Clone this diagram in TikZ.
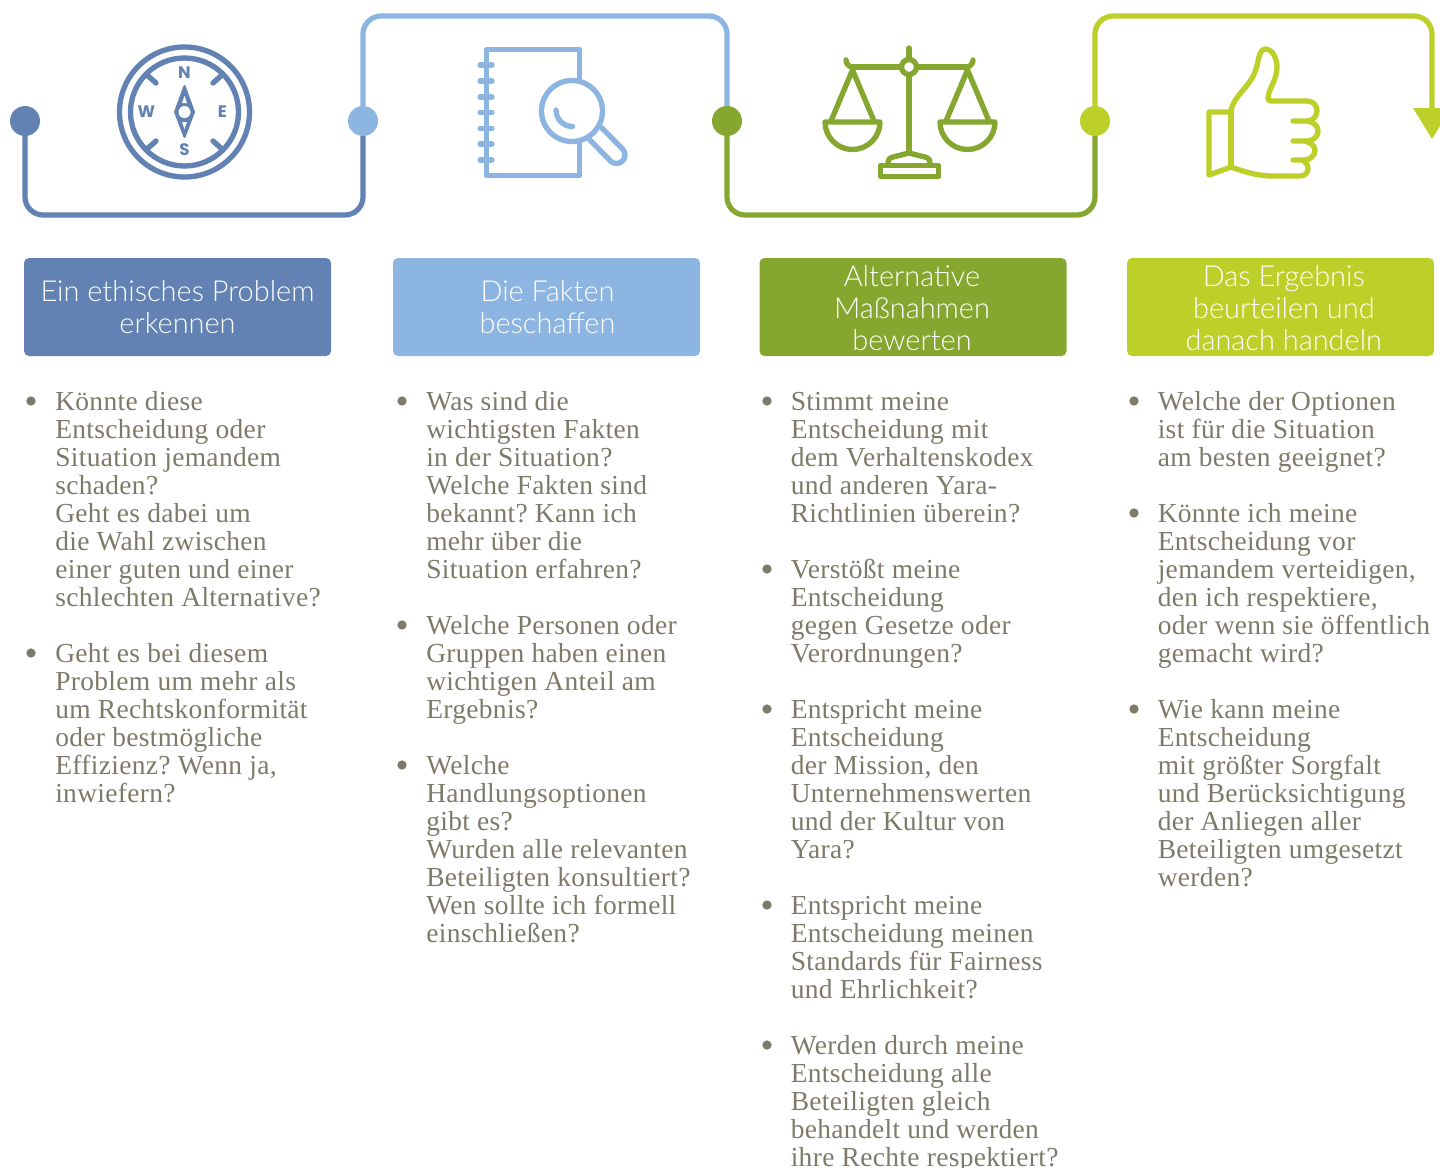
\documentclass[tikz,border=0pt]{standalone}
\usepackage{fontspec}
\setmainfont[LetterSpace=1.2]{Liberation Serif}
\newfontfamily\headfont{Lato Light}
\newfontfamily\letterfont{Poppins}
\usetikzlibrary{calc}
\definecolor{cblue}{HTML}{6282B3}
\definecolor{clight}{HTML}{8DB5E2}
\definecolor{cgreen}{HTML}{85A72F}
\definecolor{clime}{HTML}{BDD02A}
\definecolor{ctext}{HTML}{7E7A6A}
\tikzset{
  route/.style={line width=3.9pt,rounded corners=13.5pt},
  dotnode/.style={circle,fill=#1,minimum size=22.5pt,inner sep=0pt},
  icon/.style={line width=4pt,draw=#1,line cap=round,line join=round},
  headbox/.style={fill=#1,rounded corners=3.75pt,minimum width=230.25pt,minimum height=73.5pt,inner sep=0pt,text=white,align=center,font=\headfont\fontsize{21.7}{24}\selectfont},
  qtext/.style={anchor=north west,inner sep=0pt,align=left,text=ctext,font=\fontsize{20.6}{21}\selectfont\frenchspacing},
  qdot/.style={circle,fill=ctext,minimum size=7pt,inner sep=0pt},
  letter/.style={text=cblue,inner sep=0pt,font=\letterfont\fontsize{12.5}{12.5}\bfseries\selectfont}
}
\newcommand{\Ltop}[1]{\numexpr 390+28*#1\relax}
\newcommand{\Fl}{\rule{0pt}{15pt}}
\newcommand{\Hl}{\rule{0pt}{17.2pt}}
\begin{document}
\begin{tikzpicture}[x=0.75pt,y=-0.75pt]
\useasboundingbox (0,0) rectangle (1440,1168);
\clip (0,0) rectangle (1440,1168);
\fill[white] (0,0) rectangle (1440,1168);
\coordinate (bot) at (0,215);
\coordinate (top) at (0,16);
\coordinate (end) at (1432,110);
\node[dotnode=cblue,opacity=0] (g1) at (25,121) {};
\node[dotnode=clight,opacity=0] (g2) at (363,121) {};
\node[dotnode=cgreen,opacity=0] (g3) at (727,121) {};
\node[dotnode=clime,opacity=0] (g4) at (1095,121) {};
% routes
\draw[route,cblue] (g1.center) -- (g1 |- bot) -- (g2 |- bot) -- (g2.center);
\draw[route,clight] (g2.center) -- (g2 |- top) -- (g3 |- top) -- (g3.center);
\draw[route,cgreen] (g3.center) -- (g3 |- bot) -- (g4 |- bot) -- (g4.center);
\draw[route,clime] (g4.center) -- (g4 |- top) -- (end |- top) -- (end);
\fill[clime] (1413,108) -- (1451,108) -- (1432,139) -- cycle;
\node[dotnode=cblue] (d1) at (g1) {};
\node[dotnode=clight] (d2) at (g2) {};
\node[dotnode=cgreen] (d3) at (g3) {};
\node[dotnode=clime] (d4) at (g4) {};
% compass
\begin{scope}[icon=cblue]
\draw (184.5,112) circle[radius=65];
\draw (184.5,112) circle[radius=54];
\draw (147,75) -- (156,83);
\draw (222,75) -- (213,83);
\draw (147,149) -- (156,141);
\draw (222,149) -- (213,141);
\fill[cblue,line width=1.5pt,draw=cblue] (184.5,86) -- (194,112) -- (184.5,137) -- (175,112) -- cycle;
\end{scope}
\fill[white] (184.5,112) circle[radius=6];
\fill[white] (184.5,96) -- (187,103) -- (182,103) -- cycle;
\fill[white] (184.5,129) -- (187,122) -- (182,122) -- cycle;
\node[letter] (ln) at (184.5,73) {N};
\node[letter] (ls) at (184.5,150) {S};
\node[letter] (le) at (222.5,111.5) {E};
\node[letter] (lw) at (146.5,111.5) {W};
% notebook
\begin{scope}[icon=clight]
\draw (579.5,80) -- (579.5,49.5) -- (486.5,49.5) -- (486.5,175.5) -- (579.5,175.5) -- (579.5,142);
\foreach \yy in {65,81,97,112.5,128.5,144,160} \draw (480,\yy) -- (492,\yy);
\draw (572,111) circle[radius=30.5];
\draw (556,110) arc[start angle=180,end angle=90,radius=16.5];
\draw (590,140) -- (610.5,161) arc[start angle=135,end angle=-45,radius=8.5] -- (602,128);
\end{scope}
% scales
\begin{scope}[icon=cgreen]
\draw (909,75) -- (909,152);
\draw (909,48) -- (909,58);
\draw (909,67) circle[radius=7.5];
\draw (853,67) -- (901,67);
\draw (917,67) -- (966,67);
\draw (846,60) .. controls (846,64) and (849,67) .. (853,67);
\draw (973,60) .. controls (973,64) and (970,67) .. (966,67);
\draw (852.5,70) -- (831,121);
\draw (852.5,70) -- (874,121);
\draw (967.5,70) -- (946,121);
\draw (967.5,70) -- (989,121);
\draw (825,122) -- (880,122) arc[start angle=0,end angle=180,radius=27.5] -- cycle;
\draw (940,122) -- (995,122) arc[start angle=0,end angle=180,radius=27.5] -- cycle;
\draw (880.5,165.5) rectangle (938.5,176.5);
\draw (888,164) .. controls (888,160) and (889,158) .. (893,157) -- (909,153) -- (925,157) .. controls (929,158) and (930,160) .. (930,164);
\end{scope}
% thumb
\begin{scope}[icon=clime]
\draw (1231,112) -- (1209,112) -- (1209,175) -- (1231,167);
\draw (1231,110) -- (1231,167);
\draw (1231,110) .. controls (1234,96) and (1250,86) .. (1255,72) .. controls (1259,62) and (1258,49) .. (1266,49) .. controls (1272,49) and (1277,58) .. (1277,67) .. controls (1277,80) and (1268,90) .. (1268,98) .. controls (1268,100) and (1269,101) .. (1271,101) -- (1307,101) .. controls (1313,101) and (1317,105) .. (1317,111) .. controls (1317,116) and (1313,121) .. (1307,121) -- (1293,121);
\draw (1307,121) .. controls (1314,122) and (1318,126) .. (1318,131) .. controls (1318,136) and (1314,141) .. (1307,141) -- (1293,141);
\draw (1305,141) .. controls (1311,143) and (1315,146) .. (1315,150) .. controls (1315,155) and (1311,160) .. (1304,160) -- (1293,160);
\draw (1302,160) .. controls (1306,162) and (1308,165) .. (1308,168) .. controls (1308,173) and (1305,176) .. (1300,176) -- (1272,176) .. controls (1258,176) and (1245,172) .. (1231,167);
\end{scope}
% headers
\node[headbox=cblue] (h1) at (177.5,307) {Ein ethisches Problem\\erkennen};
\node[headbox=clight] (h2) at (546.5,307) {\hspace*{1.5pt}Die Fakten\\\hspace*{1.5pt}beschaffen};
\node[headbox=cgreen] (h3) at (913,307) {\Hl\hspace*{-1.5pt}Alternative\\\hspace*{-1.5pt}Maßnahmen\\\hspace*{-1.5pt}bewerten};
\node[headbox=clime] (h4) at (1280.5,307) {\Hl\hspace*{5pt}Das Ergebnis\\\hspace*{5pt}beurteilen und\\\hspace*{5pt}danach handeln};
% column 1
\node[qdot] (b11) at (31,401) {};
\node[qtext] (t11) at (55,\Ltop{0}) {\Fl Könnte diese\\Entscheidung oder\\Situation jemandem\\schaden?\\Geht es dabei um\\die Wahl zwischen\\einer guten und einer\\schlechten Alternative?};
\node[qdot] (b12) at (31,653) {};
\node[qtext] (t12) at (55,\Ltop{9}) {\Fl Geht es bei diesem\\Problem um mehr als\\um Rechtskonformität\\oder bestmögliche\\Effizienz? Wenn ja,\\inwiefern?};
% column 2
\node[qdot] (b21) at (402,401) {};
\node[qtext] (t21) at (426,\Ltop{0}) {\Fl Was sind die\\wichtigsten Fakten\\in der Situation?\\Welche Fakten sind\\bekannt? Kann ich\\mehr über die\\Situation erfahren?};
\node[qdot] (b22) at (402,625) {};
\node[qtext] (t22) at (426,\Ltop{8}) {\Fl Welche Personen oder\\Gruppen haben einen\\wichtigen Anteil am\\Ergebnis?};
\node[qdot] (b23) at (402,765) {};
\node[qtext] (t23) at (426,\Ltop{13}) {\Fl Welche\\Handlungsoptionen\\gibt es?\\Wurden alle relevanten\\Beteiligten konsultiert?\\Wen sollte ich formell\\einschließen?};
% column 3
\node[qdot] (b31) at (767,401) {};
\node[qtext] (t31) at (790.5,\Ltop{0}) {\Fl Stimmt meine\\Entscheidung mit\\dem Verhaltenskodex\\und anderen Yara-\\Richtlinien überein?};
\node[qdot] (b32) at (767,569) {};
\node[qtext] (t32) at (790.5,\Ltop{6}) {\Fl Verstößt meine\\Entscheidung\\gegen Gesetze oder\\Verordnungen?};
\node[qdot] (b33) at (767,709) {};
\node[qtext] (t33) at (790.5,\Ltop{11}) {\Fl Entspricht meine\\Entscheidung\\der Mission, den\\Unternehmenswerten\\und der Kultur von\\Yara?};
\node[qdot] (b34) at (767,905) {};
\node[qtext] (t34) at (790.5,\Ltop{18}) {\Fl Entspricht meine\\Entscheidung meinen\\Standards für Fairness\\und Ehrlichkeit?};
\node[qdot] (b35) at (767,1045) {};
\node[qtext] (t35) at (790.5,\Ltop{23}) {\Fl Werden durch meine\\Entscheidung alle\\Beteiligten gleich\\behandelt und werden\\ihre Rechte respektiert?};
% column 4
\node[qdot] (b41) at (1134,401) {};
\node[qtext] (t41) at (1157.5,\Ltop{0}) {\Fl Welche der Optionen\\ist für die Situation\\am besten geeignet?};
\node[qdot] (b42) at (1134,513) {};
\node[qtext] (t42) at (1157.5,\Ltop{4}) {\Fl Könnte ich meine\\Entscheidung vor\\jemandem verteidigen,\\den ich respektiere,\\oder wenn sie öffentlich\\gemacht wird?};
\node[qdot] (b43) at (1134,709) {};
\node[qtext] (t43) at (1157.5,\Ltop{11}) {\Fl Wie kann meine\\Entscheidung\\mit größter Sorgfalt\\und Berücksichtigung\\der Anliegen aller\\Beteiligten umgesetzt\\werden?};
\end{tikzpicture}
\end{document}
